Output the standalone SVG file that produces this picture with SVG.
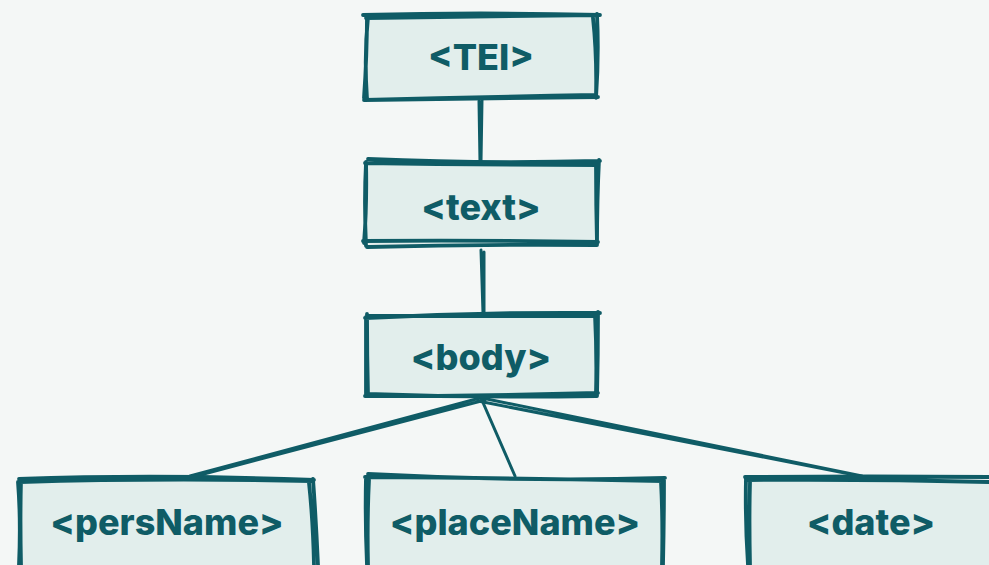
<svg xmlns="http://www.w3.org/2000/svg" width="989" height="565" viewBox="0 0 989 565">
<style>
.bg{fill:#f4f7f6}
.box{fill:#e2eeec;stroke:none}
.sk{fill:none;stroke:#0f5c66;stroke-width:3.8;stroke-linecap:round;stroke-linejoin:round}
.ln{fill:none;stroke:#0f5c66;stroke-width:3;stroke-linecap:round}
.lbl{font-family:Inter,"Noto Sans","Liberation Sans",sans-serif;font-weight:800;font-size:36px;fill:#0f5c66;text-anchor:middle}
</style>
<rect class="bg" x="0" y="0" width="989" height="565"/>
<g id="connectors">
<path class="ln" d="M479,101 L480,162 M482,100 L481,161"/>
<path class="ln" d="M481,250 L483,313 M484,252 L484,312"/>
<path class="ln" d="M480,398 L190,476 M485,400 L200,475"/>
<path class="ln" d="M481,398 L515,476"/>
<path class="ln" d="M482,398 L862,476 M478,401 L855,475"/>
</g>
<g id="node-tei">
<rect class="box" x="366" y="16" width="231" height="83"/>
<path class="sk" d="M363,15 Q480,12 600,15 M366,18 Q480,17 598,15 M597,14 Q599,55 596,98 M593,18 Q597,55 596,96 M598,97 Q480,99 364,100 M596,95 Q480,97 366,100 M367,99 Q364,55 368,17 M364,98 Q367,55 367,15"/>
<text class="lbl" x="481" y="70">&lt;TEI&gt;</text>
</g>
<g id="node-text">
<rect class="box" x="366" y="163" width="231" height="81"/>
<path class="sk" d="M368,159 Q480,164 600,161 M365,163 Q480,165 598,165 M599,160 Q597,200 597,245 M596,165 Q596,205 597,243 M598,242 Q480,240 363,241 M596,245 Q480,244 367,247 M366,246 Q364,200 366,163 M364,243 Q367,205 366,162"/>
<text class="lbl" x="481" y="220">&lt;text&gt;</text>
</g>
<g id="node-body">
<rect class="box" x="366" y="315" width="231" height="81"/>
<path class="sk" d="M365,318 Q480,312 600,313 M367,316 Q480,316 597,316 M598,312 Q598,355 597,396 M595,315 Q597,355 596,393 M598,393 Q480,396 365,396 M596,396 Q480,398 367,394 M366,396 Q366,355 366,317 M368,395 Q367,355 367,314"/>
<text class="lbl" x="481" y="370">&lt;body&gt;</text>
</g>
<g id="node-persname">
<rect class="box" x="20" y="481" width="294" height="84"/>
<path class="sk" d="M19,479 Q160,474 314,480 M20,482 Q160,478 312,481 M313,479 Q316,520 318,565 M309,483 Q313,520 314,565 M21,480 Q20,520 21,565 M18,482 Q21,520 19,565"/>
<text class="lbl" x="167" y="535">&lt;persName&gt;</text>
</g>
<g id="node-placename">
<rect class="box" x="366" y="479" width="297" height="86"/>
<path class="sk" d="M368,474 Q520,482 665,478 M365,477 Q520,478 663,481 M664,478 Q664,520 663,565 M661,482 Q663,520 662,565 M366,477 Q365,520 367,565 M369,480 Q367,520 368,565"/>
<text class="lbl" x="515" y="535">&lt;placeName&gt;</text>
</g>
<g id="node-date">
<rect class="box" x="747" y="480" width="242" height="85"/>
<path class="sk" d="M745,477 Q870,476 989,477 M748,480 Q870,479 989,482 M746,477 Q745,520 748,565 M750,482 Q749,520 750,565"/>
<text class="lbl" x="871" y="535">&lt;date&gt;</text>
</g>
</svg>
